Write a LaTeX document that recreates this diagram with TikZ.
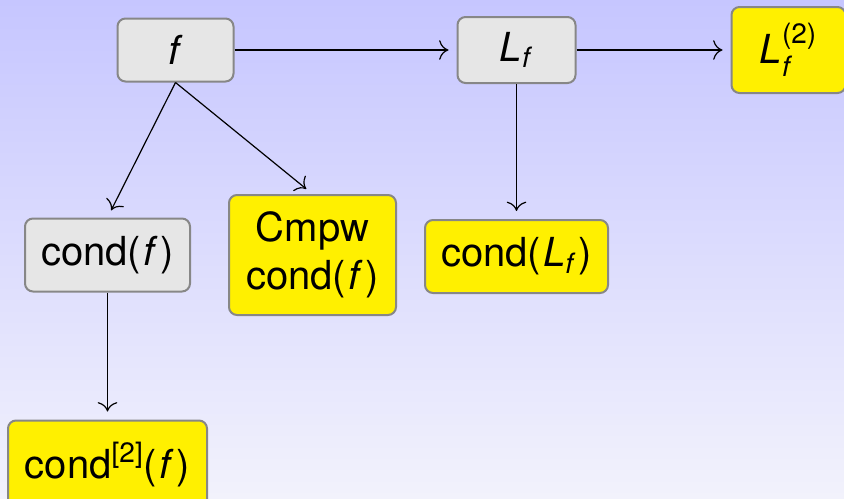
\documentclass[tikz,border=0pt]{standalone}
\usepackage{amsmath}
\usepackage{fontspec}
\setmainfont{TeX Gyre Heros}
\usetikzlibrary{arrows.meta, positioning}

\definecolor{bgtop}{RGB}{198,198,255}
\definecolor{bgbottom}{RGB}{242,242,252}
\definecolor{boxgray}{RGB}{230,230,230}
\definecolor{boxline}{RGB}{135,135,135}
\definecolor{boxyellow}{RGB}{255,240,0}

\newcommand{\itf}{\kern1pt\textit{f}\kern1.5pt}

\begin{document}
\begin{tikzpicture}[
    graybox/.style={rectangle, draw=boxline, fill=boxgray, line width=1pt, rounded corners=4pt, align=center, inner sep=2pt, font=\fontsize{20}{24}\selectfont},
    yellowbox/.style={graybox, fill=boxyellow},
    arrow/.style={-{To[scale=1.6]}, line width=0.6pt, shorten >=4pt}
]

% ============ BACKGROUND ============
\shade[top color=bgtop, bottom color=bgbottom] (0,0) rectangle (422pt,-249pt);
\useasboundingbox (0,0) rectangle (422pt,-249pt);

% ============ TOP ROW ============
\node[graybox, minimum width=58pt, minimum height=31.5pt] (f) at (87.75pt,-25pt) {\textit{f}};
\node[graybox, minimum width=59pt, minimum height=33pt, right=111pt of f] (lf) {$\text{\textit{L}}_{\text{\textit{f}}}$};
\node[yellowbox, minimum width=57pt, minimum height=43pt, right=77pt of lf] (lf2) {$\text{\textit{L}}_{\text{\textit{f}}}^{\text{(2)}}$};

% ============ MIDDLE ROW ============
\node[graybox, minimum width=82.5pt, minimum height=36.5pt, below=67.5pt of f, xshift=-34pt] (condf) {cond(\itf)};
\node[yellowbox, minimum width=83.5pt, minimum height=60pt, right=18.5pt of condf] (cmpw) {Cmpw\\cond(\itf)};
\node[yellowbox, minimum width=91.5pt, minimum height=36.5pt, below=67.5pt of lf] (condlf) {cond(\kern1pt$\text{\textit{L}}_{\text{\textit{f}}}$\kern1pt)};

% ============ BOTTOM ROW ============
\node[yellowbox, minimum width=99.5pt, minimum height=44pt, below=63.5pt of condf] (cond2) {cond$^{\text{[2]}}$(\itf)};

% ============ CONNECTIONS ============
\draw[arrow] (f) -- (lf);
\draw[arrow] (lf) -- (lf2);
\draw[arrow] (f.south) -- (condf.north);
\draw[arrow] (f.south) -- (cmpw.north);
\draw[arrow] (lf) -- (condlf);
\draw[arrow] (condf) -- (cond2);

\end{tikzpicture}
\end{document}
